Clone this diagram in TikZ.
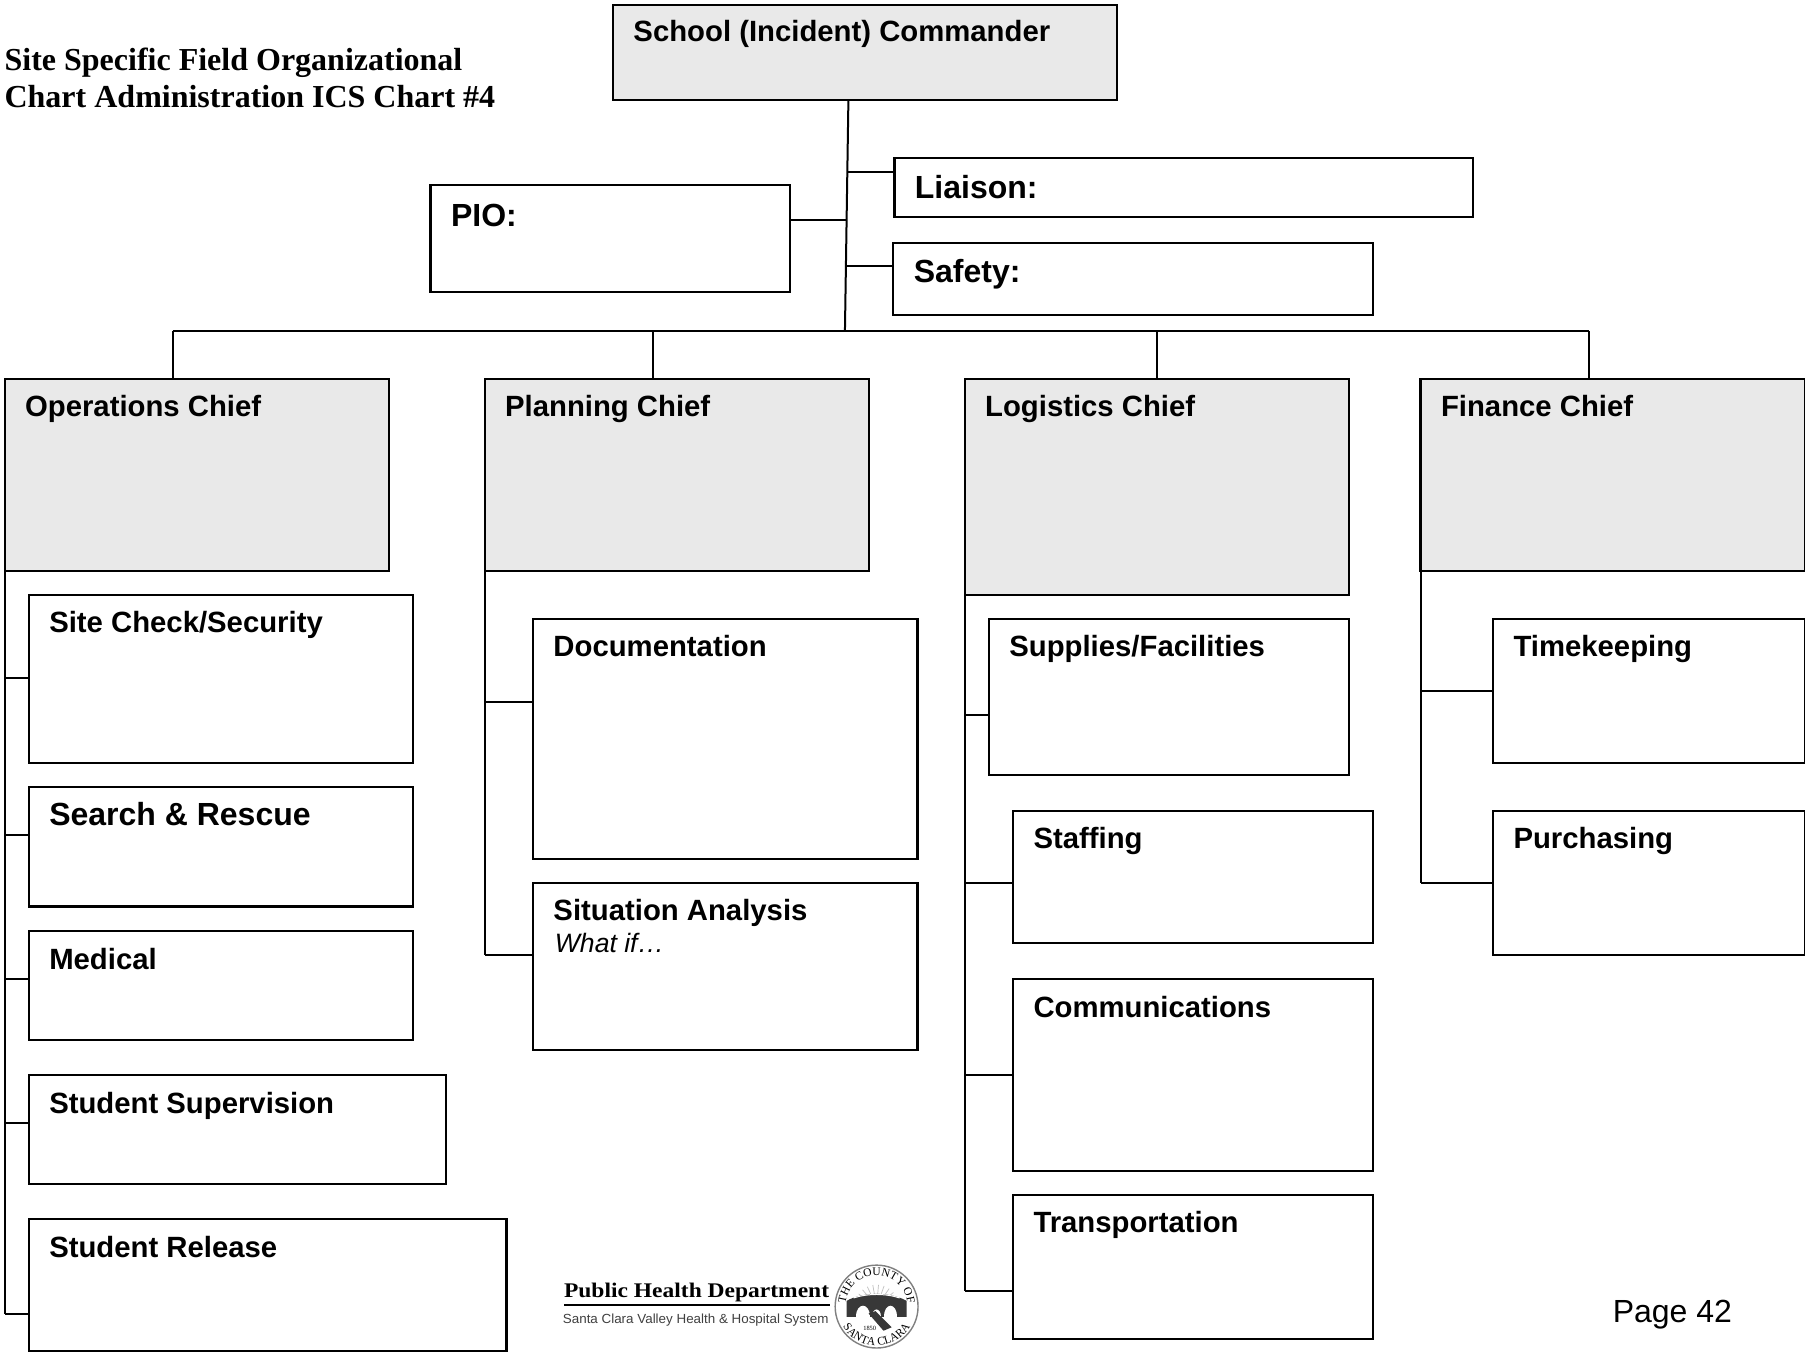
\documentclass[tikz,border=0pt]{standalone}
\usepackage{fontspec}
\setmainfont{Liberation Sans}
\newfontfamily\serifb{Liberation Serif}
\newfontfamily\serifw[FakeStretch=1.13]{Liberation Serif}
\newfontfamily\sansw[FakeStretch=1.015]{Liberation Sans}
\usetikzlibrary{decorations.text}
\definecolor{chiefgray}{HTML}{E9E9E9}
\newcommand{\ubox}[7][]{%
  \pgfmathsetmacro{\bw}{(#5-#3)*0.5756}%
  \pgfmathsetmacro{\bh}{(#6-#4)*0.5756}%
  \node[orgbox,#1,minimum width=\bw pt,minimum height=\bh pt] (#2) at ({(#3+#5)/2},{(#4+#6)/2}) {};%
  \node[boxlabel] (#2-t) at ({#3+17.8},{#4+#7}) {\csname lbl#2\endcsname};%
}
\tikzset{
  orgbox/.style={draw=black,line width=1.05pt,fill=white,inner sep=0pt,outer sep=0pt,rectangle},
  chief/.style={fill=chiefgray},
  boxlabel/.style={anchor=base west,inner sep=0pt,outer sep=0pt,font=\fontsize{14.65}{16}\selectfont\bfseries},
  link/.style={draw=black,line width=1pt},
  plainlabel/.style={anchor=base west,inner sep=0pt,outer sep=0pt},
}
\expandafter\def\csname lblcmd\endcsname{School (Incident) Commander}
\expandafter\def\csname lblliaison\endcsname{\fontsize{16}{18}\selectfont Liaison:}
\expandafter\def\csname lblpio\endcsname{\fontsize{16}{18}\selectfont PIO:}
\expandafter\def\csname lblsafety\endcsname{\fontsize{16}{18}\selectfont Safety:}
\expandafter\def\csname lblops\endcsname{Operations Chief}
\expandafter\def\csname lblplan\endcsname{Planning Chief}
\expandafter\def\csname lbllog\endcsname{Logistics Chief}
\expandafter\def\csname lblfin\endcsname{Finance Chief}
\expandafter\def\csname lblsite\endcsname{Site Check/Security}
\expandafter\def\csname lblsearch\endcsname{\fontsize{16}{18}\selectfont Search \& Rescue}
\expandafter\def\csname lblmedical\endcsname{Medical}
\expandafter\def\csname lblstudsup\endcsname{Student Supervision}
\expandafter\def\csname lblrelease\endcsname{Student Release}
\expandafter\def\csname lbldoc\endcsname{Documentation}
\expandafter\def\csname lblsit\endcsname{Situation Analysis}
\expandafter\def\csname lblsupplies\endcsname{Supplies/Facilities}
\expandafter\def\csname lblstaffing\endcsname{Staffing}
\expandafter\def\csname lblcomm\endcsname{Communications}
\expandafter\def\csname lbltransport\endcsname{Transportation}
\expandafter\def\csname lbltime\endcsname{Timekeeping}
\expandafter\def\csname lblpurch\endcsname{Purchasing}
\begin{document}
\begin{tikzpicture}[x=0.5756pt,y=-0.5756pt]
\path[use as bounding box] (0,0) rectangle (1568,1174);
\fill[white] (0,0) rectangle (1568,1174);
% boxes
\ubox[chief]{cmd}{532.5}{4}{970.5}{87}{32}
\ubox{liaison}{777}{137.5}{1279.5}{188.5}{34.5}
\ubox{pio}{374}{161}{686}{254}{35.5}
\ubox{safety}{776}{211}{1193}{273.5}{34.5}
\ubox[chief]{ops}{4}{329}{338}{496}{33}
\ubox[chief]{plan}{421}{329}{755}{496}{33}
\ubox[chief]{log}{838}{329}{1172}{517}{33}
\ubox[chief]{fin}{1234}{329}{1568}{496}{33}
\ubox{site}{25}{517}{359}{662.5}{32.5}
\ubox{search}{25}{684}{359}{787.5}{33.5}
\ubox{medical}{25}{809}{359}{903.5}{33}
\ubox{studsup}{25}{934}{387.5}{1028.5}{33}
\ubox{release}{25}{1059}{440}{1174}{33}
\ubox{doc}{463}{538}{797}{746}{32.5}
\ubox{sit}{463}{767}{797}{912.5}{33}
\ubox{supplies}{859}{538}{1172}{673.5}{32.5}
\ubox{staffing}{880}{704.5}{1193}{819.5}{33}
\ubox{comm}{880}{850.5}{1193}{1017}{33}
\ubox{transport}{880}{1038}{1193}{1163}{33}
\ubox{time}{1297}{538}{1568}{662.5}{32.5}
\ubox{purch}{1297}{704.5}{1568}{829.5}{33}
\node[plainlabel,font=\fontsize{13.3}{15}\selectfont\itshape] (whatif) at (482,827) {What if…};
% title
\node[plainlabel,font=\serifb\fontsize{16}{18}\selectfont\bfseries] (title1) at (4,61) {Site Specific Field Organizational};
\node[plainlabel,font=\serifb\fontsize{16}{18}\selectfont\bfseries] (title2) at (4,93) {Chart Administration ICS Chart \#4};
\node[plainlabel,font=\fontsize{16}{18}\selectfont] (page) at (1401,1148.5) {Page 42};
% trunk and bus
\coordinate (trunktop) at (737,87);
\coordinate (trunkbot) at (734,287);
\coordinate (busl) at (150,287.5);
\coordinate (busr) at (1380,287.5);
\coordinate (j1) at (736,149.5);
\coordinate (j2) at (735.5,191);
\coordinate (j3) at (735,231);
\draw[link] (trunktop) -- (trunkbot);
\draw[link] (busl) -- (busr);
\draw[link] (j1) -- (j1 -| liaison.west);
\draw[link] (j2) -- (j2 -| pio.east);
\draw[link] (j3) -- (j3 -| safety.west);
\draw[link] (busl) -- (busl |- ops.north);
\coordinate (d2) at (567,287.5);
\coordinate (d3) at (1005,287.5);
\draw[link] (d2) -- (d2 |- plan.north);
\draw[link] (d3) -- (d3 |- log.north);
\draw[link] (busr) -- (busr |- fin.north);
% operations rail
\coordinate (o1) at (4,589);\coordinate (o2) at (4,725.5);\coordinate (o3) at (4,850.5);\coordinate (o4) at (4,975.5);\coordinate (o5) at (4,1141.5);
\draw[link] (ops.south west) -- (o5);
\draw[link] (o1) -- (o1 -| site.west);
\draw[link] (o2) -- (o2 -| search.west);
\draw[link] (o3) -- (o3 -| medical.west);
\draw[link] (o4) -- (o4 -| studsup.west);
\draw[link] (o5) -- (o5 -| release.west);
% planning rail
\coordinate (p1) at (421,609.5);\coordinate (p2) at (421,829.5);
\draw[link] (plan.south west) -- (p2);
\draw[link] (p1) -- (p1 -| doc.west);
\draw[link] (p2) -- (p2 -| sit.west);
% logistics rail
\coordinate (l1) at (838,621);\coordinate (l2) at (838,767);\coordinate (l3) at (838,933.5);\coordinate (l4) at (838,1121.5);
\draw[link] (log.south west) -- (l4);
\draw[link] (l1) -- (l1 -| supplies.west);
\draw[link] (l2) -- (l2 -| staffing.west);
\draw[link] (l3) -- (l3 -| comm.west);
\draw[link] (l4) -- (l4 -| transport.west);
% finance rail
\coordinate (f1) at (1234,600);\coordinate (f2) at (1234,767);
\draw[link] (fin.south west) -- (f2);
\draw[link] (f1) -- (f1 -| time.west);
\draw[link] (f2) -- (f2 -| purch.west);
% logo
\node[plainlabel,font=\serifw\fontsize{10.4}{12}\selectfont\bfseries] (phd) at (490,1127) {Public Health Department};
\fill[black] (490,1132.8) rectangle (721,1134.8);
\node[plainlabel,font=\sansw\fontsize{6.6}{8}\selectfont,text=black!75] (scv) at (489,1149.5) {Santa Clara Valley Health \& Hospital System};
% seal
\begin{scope}[shift={(761.5,1135)}]
\draw[black!50,line width=0.7pt] (0,0) circle (36);
\foreach \a in {200,215,...,340}{\draw[black!25,line width=0.35pt] (\a:10) -- (\a:19);}
\path[postaction=decorate,decoration={text along path,text align=center,text={|\serifb\fontsize{5.8}{7}\selectfont|THE COUNTY OF}}]
  (160:27) arc[start angle=160,end angle=380,radius=27];
\path[postaction=decorate,decoration={text along path,text align=center,text={|\serifb\fontsize{5.8}{7}\selectfont|SANTA CLARA}}]
  (-34,0) arc[start angle=180,end angle=0,radius=34];
\fill[black!78] (-26,-5) .. controls (-12,-13) and (12,-13) .. (26,-5) -- (26,9) -- (-26,9) -- cycle;
\fill[white] (-18,9) .. controls (-18,-4) and (-6,-4) .. (-6,9) -- cycle;
\fill[white] (6,9) .. controls (6,-4) and (18,-4) .. (18,9) -- cycle;
\fill[white] (-4,9) .. controls (-4,0) and (4,0) .. (4,9) -- cycle;
\draw[white,line width=0.5pt] (-20,-7.5) .. controls (-8,-11.5) and (8,-11.5) .. (20,-7.5);
\fill[black!78] (-7,6) -- (-1,4) -- (13,18) -- (6,21) -- cycle;
\node[inner sep=0pt,font=\serifb\fontsize{3.2}{4}\selectfont] (yr) at (-6,19) {1850};
\end{scope}
\end{tikzpicture}
\end{document}
